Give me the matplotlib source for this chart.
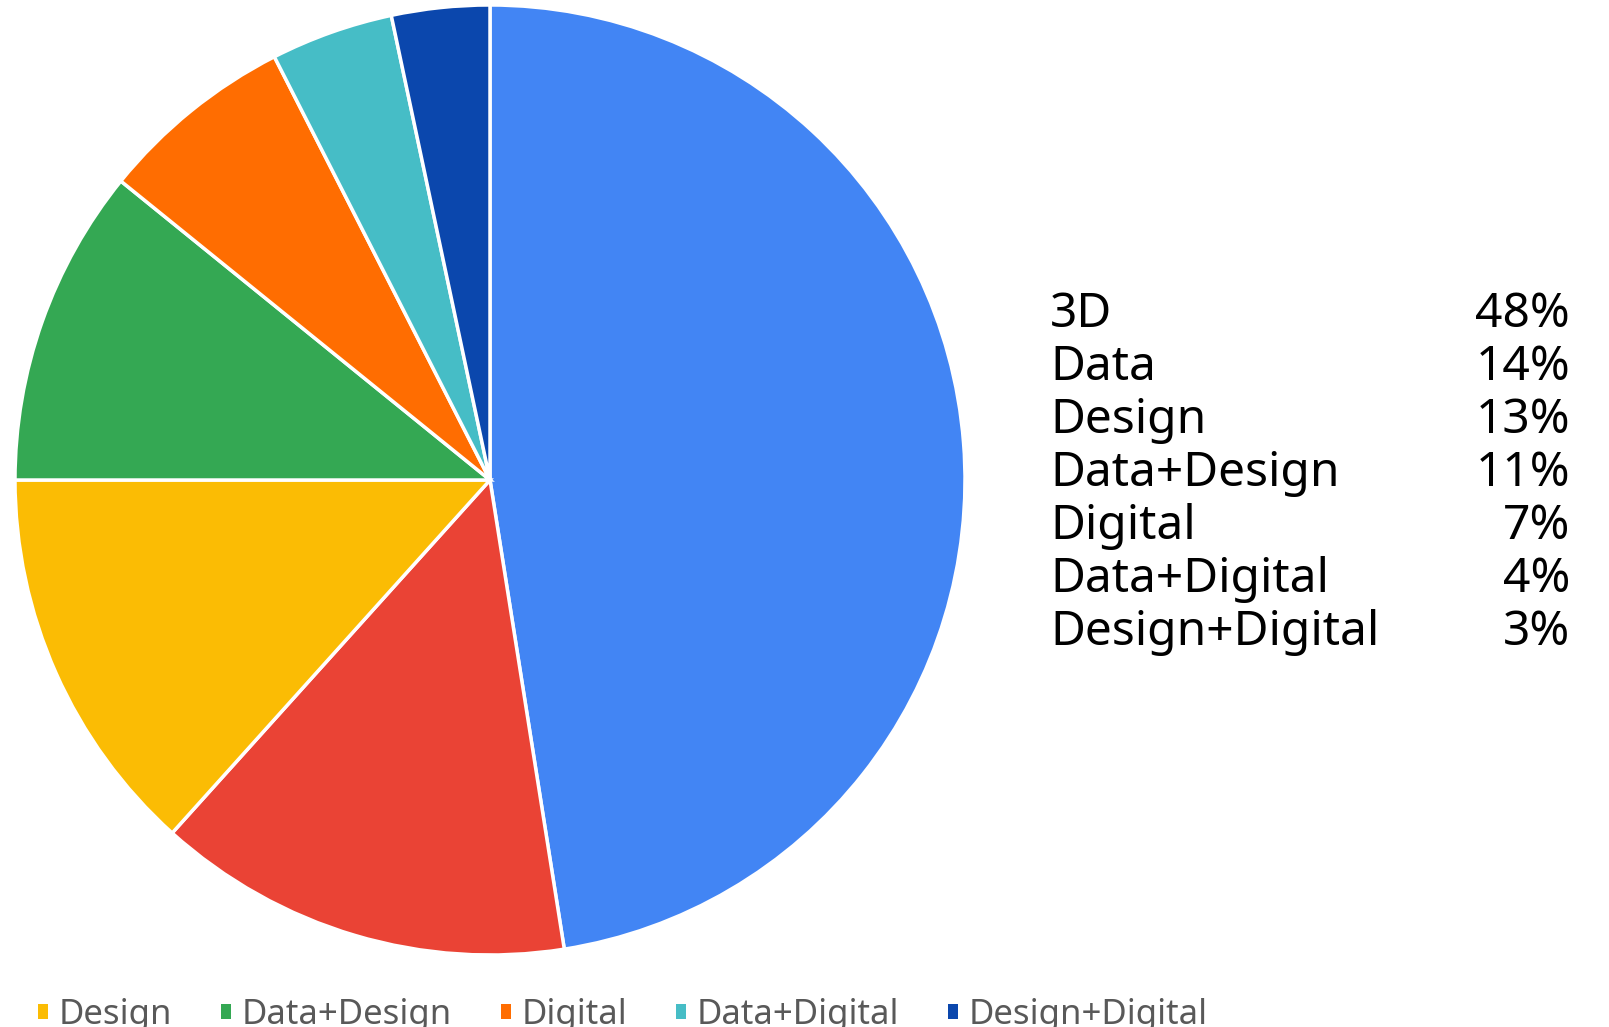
import matplotlib
matplotlib.use("Agg")
import matplotlib.pyplot as plt
from matplotlib.patches import Rectangle

# --- data ---------------------------------------------------------------------
categories = ["3D", "Data", "Design", "Data+Design", "Digital",
              "Data+Digital", "Design+Digital"]
counts = [57, 17, 16, 13, 8, 5, 4]
colors = ["#4285F4", "#EA4335", "#FBBC04", "#34A853", "#FF6D01",
          "#46BDC6", "#0B47AD"]
legend_items = ["Design", "Data+Design", "Digital", "Data+Digital", "Design+Digital"]

total = sum(counts)
shares = [c / total * 100 for c in counts]

W, H = 1609, 1027
plt.rcParams["font.family"] = ["Noto Sans", "DejaVu Sans"]
fig = plt.figure(figsize=(W / 100, H / 100), dpi=100)

# --- pie ------------------------------------------------------------------------
cx, cy, r = 490, 480, 475
ax = fig.add_axes([(cx - r) / W, (H - cy - r) / H, 2 * r / W, 2 * r / H])
wedges, _ = ax.pie(counts, colors=colors, startangle=90, counterclock=False,
                   wedgeprops=dict(edgecolor="white", linewidth=2.5))
ax.set_xlim(-1, 1)
ax.set_ylim(-1, 1)
ax.set_aspect("equal")
ax.axis("off")

# --- label / percentage table on the right --------------------------------------
x_left, x_right = 1050, 1570
y0, dy = 327, 53
for i, (cat, s) in enumerate(zip(categories, shares)):
    y = 1 - (y0 + i * dy) / H
    fig.text(x_left / W, y, cat, fontsize=34.5, color="black",
             ha="left", va="baseline")
    fig.text(x_right / W, y, f"{s:.0f}%", fontsize=34.5, color="black",
             ha="right", va="baseline")

# --- bottom legend (cut off like the original) ------------------------------------
handles = [Rectangle((0, 0), 1, 1, facecolor=wedges[categories.index(n)].get_facecolor())
           for n in legend_items]
fig.legend(handles, legend_items, loc="lower left",
           bbox_to_anchor=(38 / W, 1 - 1032 / H), ncol=5, frameon=False,
           fontsize=25, labelcolor="#595959", handlelength=0.3, handleheight=0.3,
           handletextpad=0.3, columnspacing=1.4, borderaxespad=0, borderpad=0)

fig.savefig("out.png", dpi=100)
